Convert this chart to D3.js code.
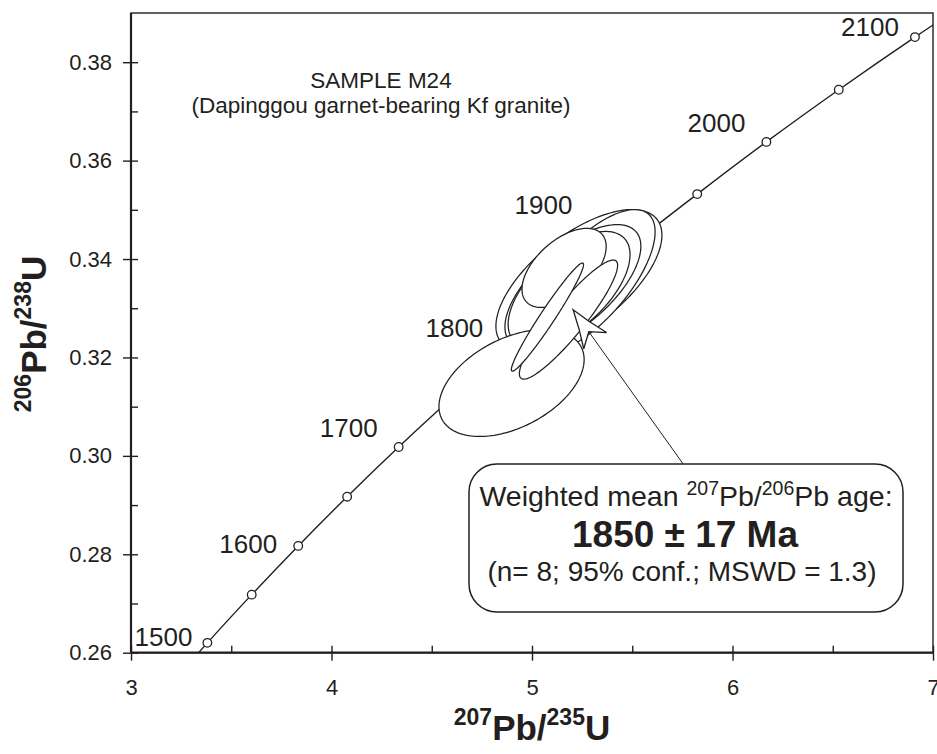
<!DOCTYPE html>
<html>
<head>
<meta charset="utf-8">
<script src="https://cdn.jsdelivr.net/npm/d3@7/dist/d3.min.js"></script>
<style>
  body { margin: 0; background: #fff; }
  svg { display: block; }
  text { font-family: "Liberation Sans", Arial, Helvetica, sans-serif; fill: #231f20; }
</style>
</head>
<body>
<svg id="chart" width="937" height="754"></svg>
<script>
// Concordia age markers (Ma) and their isotope ratios
const ages      = [1450, 1500, 1550, 1600, 1650, 1700, 1750, 1800, 1850, 1900, 1950, 2000, 2050, 2100, 2150];
const pb207u235 = [3.170, 3.381, 3.602, 3.834, 4.078, 4.335, 4.604, 4.887, 5.184, 5.496, 5.824, 6.169, 6.530, 6.910, 7.310];
const pb206u238 = [0.2522, 0.2620, 0.2718, 0.2817, 0.2917, 0.3018, 0.3119, 0.3221, 0.3324, 0.3428, 0.3532, 0.3638, 0.3744, 0.3851, 0.3959];
const labelledAges = [1500, 1600, 1700, 1800, 1900, 2000, 2100];

// Zircon analyses (error ellipses): centre, half-widths, error correlation
const spotX   = [5.234, 5.287, 5.204, 5.185, 5.160, 4.898, 5.182, 5.077];
const spotSX  = [0.414, 0.327, 0.339, 0.304, 0.210, 0.362, 0.245, 0.180];
const spotY   = [0.3356, 0.3354, 0.3344, 0.3338, 0.3382, 0.3148, 0.3277, 0.3282];
const spotSY  = [0.01445, 0.01465, 0.0126, 0.0118, 0.00804, 0.01086, 0.0121, 0.01099];
const spotRho = [0.64, 0.69, 0.65, 0.60, 0.54, 0.44, 0.91, 0.97];

// Axis ticks
const xTicks = [3, 4, 5, 6, 7];
const xMinor = [3.5, 4.5, 5.5, 6.5];
const yTicks = [0.26, 0.28, 0.30, 0.32, 0.34, 0.36, 0.38];
const yMinor = [0.27, 0.29, 0.31, 0.33, 0.35, 0.37];

// Annotation text
const sampleTitle = ["SAMPLE M24", "(Dapinggou garnet-bearing Kf granite)"];
const meanAge = 1850, meanErr = 17, nSpots = 8, mswd = 1.3;
// arrow from the result box towards the weighted mean
const arrowTip  = [5.205, 0.3297];
const arrowTail = [5.753, 0.2984];

// ---- layout ----
const svg = d3.select("#chart");
const plot = { left: 131, right: 933, top: 13, bottom: 652.7 };
const x = d3.scaleLinear().domain([3, 7]).range([plot.left, plot.right]);
const y = d3.scaleLinear().domain([0.26, 0.39]).range([plot.bottom, plot.top]);
const ink = "#231f20";

svg.append("clipPath").attr("id", "plotclip")
  .append("rect").attr("x", plot.left).attr("y", plot.top)
  .attr("width", plot.right - plot.left).attr("height", plot.bottom - plot.top);

const g = svg.append("g").attr("clip-path", "url(#plotclip)");

// Concordia curve
const concordia = ages.map((a, i) => ({ age: a, x: pb207u235[i], y: pb206u238[i] }));
g.append("path")
  .datum(concordia)
  .attr("d", d3.line().x(d => x(d.x)).y(d => y(d.y)).curve(d3.curveCatmullRom))
  .attr("fill", "none").attr("stroke", ink).attr("stroke-width", 1.4);

// Age markers
g.selectAll("circle.age")
  .data(concordia.filter(d => d.x >= 3 && d.x <= 7))
  .join("circle").attr("class", "age")
  .attr("cx", d => x(d.x)).attr("cy", d => y(d.y)).attr("r", 4.3)
  .attr("fill", "#fff").attr("stroke", ink).attr("stroke-width", 1.3);

// Error ellipses
const ellipses = spotX.map((cx, i) => {
  const r = spotRho[i];
  return d3.range(0, 181).map(k => {
    const t = k / 180 * 2 * Math.PI;
    return [cx + spotSX[i] * Math.cos(t),
            spotY[i] + spotSY[i] * (r * Math.cos(t) + Math.sqrt(1 - r * r) * Math.sin(t))];
  });
});
g.selectAll("path.spot")
  .data(ellipses)
  .join("path").attr("class", "spot")
  .attr("d", d3.line().x(d => x(d[0])).y(d => y(d[1])).curve(d3.curveLinearClosed))
  .attr("fill", "#fff").attr("stroke", ink).attr("stroke-width", 1.25);

// Age labels on the concordia
const labelOffset = {
  1500: [-15, 3], 1600: [-21, 7], 1700: [-21, -10], 1800: [-26, -10],
  1900: [-59, -31], 2000: [-21, -10], 2100: [-16, -1]
};
svg.selectAll("text.agelabel")
  .data(concordia.filter(d => labelledAges.includes(d.age)))
  .join("text").attr("class", "agelabel")
  .attr("x", d => x(d.x) + labelOffset[d.age][0])
  .attr("y", d => y(d.y) + labelOffset[d.age][1])
  .attr("text-anchor", "end").attr("font-size", 26)
  .text(d => d.age);

// Axes: major ticks cross the frame, minor ticks point inwards
svg.append("g").attr("transform", `translate(0,${plot.bottom})`)
  .call(d3.axisBottom(x).tickValues(xTicks).tickSize(8).tickPadding(19).tickFormat(d3.format("d")));
svg.append("g").attr("transform", `translate(0,${plot.bottom})`)
  .call(d3.axisBottom(x).tickValues(xTicks.concat(xMinor)).tickSize(-7).tickFormat(""));
svg.append("g").attr("transform", `translate(${plot.left},0)`)
  .call(d3.axisLeft(y).tickValues(yTicks).tickSize(8).tickPadding(11).tickFormat(d3.format(".2f")));
svg.append("g").attr("transform", `translate(${plot.left},0)`)
  .call(d3.axisLeft(y).tickValues(yTicks.concat(yMinor)).tickSize(-7).tickFormat(""));
svg.selectAll(".domain").remove();
svg.selectAll(".tick line").attr("stroke", ink).attr("stroke-width", 1.4);
svg.selectAll(".tick text").attr("font-size", 22).attr("font-family", null).attr("fill", ink);

// Frame
svg.append("rect")
  .attr("x", plot.left).attr("y", plot.top)
  .attr("width", plot.right - plot.left).attr("height", plot.bottom - plot.top)
  .attr("fill", "none").attr("stroke", ink).attr("stroke-width", 1.4);
svg.append("line").attr("x1", plot.left).attr("x2", plot.left)
  .attr("y1", plot.top).attr("y2", plot.bottom).attr("stroke", ink).attr("stroke-width", 2.2);
svg.append("line").attr("x1", plot.left).attr("x2", plot.right)
  .attr("y1", plot.bottom).attr("y2", plot.bottom).attr("stroke", ink).attr("stroke-width", 2.2);

// Axis titles with isotope superscripts
function isotopeTitle(sel, mass1, mass2) {
  sel.attr("font-weight", "bold").attr("text-anchor", "middle");
  sel.append("tspan").attr("font-size", 23).attr("dy", -15).text(mass1);
  sel.append("tspan").attr("font-size", 35).attr("dy", 15).text("Pb/");
  sel.append("tspan").attr("font-size", 23).attr("dy", -15).text(mass2);
  sel.append("tspan").attr("font-size", 35).attr("dy", 15).text("U");
}
svg.append("text").attr("x", 532).attr("y", 740).call(isotopeTitle, "207", "235");
svg.append("text").attr("transform", "translate(46,334) rotate(-90)").call(isotopeTitle, "206", "238");

// Sample caption
svg.selectAll("text.caption").data(sampleTitle).join("text").attr("class", "caption")
  .attr("x", 381).attr("y", (d, i) => 88 + i * 25)
  .attr("text-anchor", "middle").attr("font-size", 22.5).text(d => d);

// Arrow to the weighted mean
const tip = [x(arrowTip[0]), y(arrowTip[1])], tail = [x(arrowTail[0]), y(arrowTail[1])];
const ang = Math.atan2(tail[1] - tip[1], tail[0] - tip[0]);
svg.append("line")
  .attr("x1", tail[0]).attr("y1", tail[1])
  .attr("x2", tip[0] + 27 * Math.cos(ang))
  .attr("y2", tip[1] + 27 * Math.sin(ang))
  .attr("stroke", ink).attr("stroke-width", 1);
svg.append("path")
  .attr("transform", `translate(${tip[0]},${tip[1]}) rotate(${ang * 180 / Math.PI})`)
  .attr("d", "M0,0 Q20,6 38,14 L27,0 L38,-14 Q20,-6 0,0 Z")
  .attr("fill", "#fff").attr("stroke", ink).attr("stroke-width", 1.3);

// Result box
const box = { x: 469, y: 464, w: 434, h: 148 };
svg.append("rect").attr("x", box.x).attr("y", box.y).attr("width", box.w).attr("height", box.h)
  .attr("rx", 28).attr("ry", 28).attr("fill", "#fff").attr("stroke", ink).attr("stroke-width", 1.5);
const cxBox = box.x + box.w / 2;
const l1 = svg.append("text").attr("x", cxBox).attr("y", 506).attr("text-anchor", "middle").attr("font-size", 28.5);
l1.append("tspan").text("Weighted mean ");
l1.append("tspan").attr("font-size", 19.5).attr("dy", -11).text("207");
l1.append("tspan").attr("dy", 11).text("Pb/");
l1.append("tspan").attr("font-size", 19.5).attr("dy", -11).text("206");
l1.append("tspan").attr("dy", 11).text("Pb age:");
svg.append("text").attr("x", cxBox - 1).attr("y", 547).attr("text-anchor", "middle")
  .attr("font-size", 37).attr("font-weight", "bold").text(`${meanAge} ± ${meanErr} Ma`);
svg.append("text").attr("x", cxBox - 4).attr("y", 581).attr("text-anchor", "middle")
  .attr("font-size", 28).text(`(n= ${nSpots}; 95% conf.; MSWD = ${mswd})`);
</script>
</body>
</html>
